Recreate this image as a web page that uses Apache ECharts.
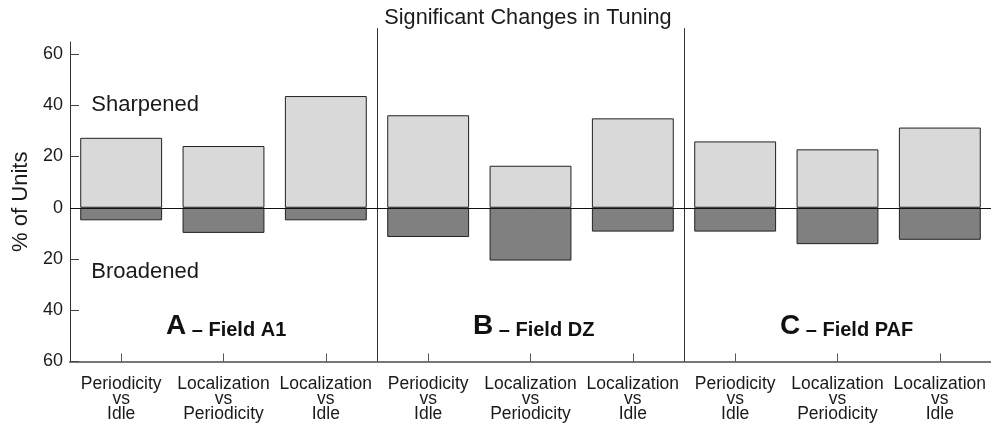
<!DOCTYPE html>
<html>
<head>
<meta charset="utf-8">
<script src="https://cdn.jsdelivr.net/npm/echarts@6/dist/echarts.min.js"></script>
<style>
  html, body { margin: 0; padding: 0; background: #fff; }
  #chart { width: 991px; height: 423px; }
</style>
</head>
<body>
<div id="chart"></div>
<script>
// Comparison pairs along the x axis, three per recording field
const categories = [
  'Periodicity\nvs\nIdle', 'Localization\nvs\nPeriodicity', 'Localization\nvs\nIdle',
  'Periodicity\nvs\nIdle', 'Localization\nvs\nPeriodicity', 'Localization\nvs\nIdle',
  'Periodicity\nvs\nIdle', 'Localization\nvs\nPeriodicity', 'Localization\nvs\nIdle'
];
// % of units whose tuning sharpened (drawn upward)
const sharpened = [27.3, 24.1, 43.6, 36.1, 16.4, 34.9, 25.9, 22.8, 31.3];
// % of units whose tuning broadened (drawn downward)
const broadened = [4.9, 9.8, 4.9, 11.4, 20.6, 9.3, 9.3, 14.2, 12.5];
// y tick values; labels show magnitudes only
const yTicks = [-60, -40, -20, 0, 20, 40, 60];
// recording fields, one per group of three bars
const fieldLetters = ['A', 'B', 'C'];
const fieldNames = ['Field A1', 'Field DZ', 'Field PAF'];
const fieldCenters = [1, 4, 7];
// category index where each new field group begins
const groupStarts = [3, 6];

const FONT = '"Liberation Sans", Arial, Helvetica, sans-serif';
const chart = echarts.init(document.getElementById('chart'), null, { renderer: 'canvas' });

chart.setOption({
  animation: false,
  backgroundColor: '#ffffff',
  textStyle: { fontFamily: FONT },
  grid: { left: 70, right: -1.5, top: 42, bottom: 58.7, containLabel: false },
  graphic: [{
    type: 'text',
    x: 528, y: 18,
    style: {
      text: 'Significant Changes in Tuning',
      font: '21.7px ' + FONT,
      fill: '#1a1a1a',
      textAlign: 'center',
      textVerticalAlign: 'middle'
    }
  }],
  xAxis: {
    type: 'category',
    data: categories,
    boundaryGap: true,
    axisLine: { show: true, onZero: false, lineStyle: { color: '#777', width: 2 } },
    axisTick: { show: true, alignWithLabel: true, inside: true, length: 8, lineStyle: { color: '#555', width: 1 } },
    axisLabel: {
      interval: 0, fontSize: 17.5, lineHeight: 15, color: '#1a1a1a', margin: 15, fontFamily: FONT
    },
    splitLine: { show: false }
  },
  yAxis: {
    type: 'value',
    min: -60,
    max: 64.7,
    name: '% of Units',
    nameLocation: 'middle',
    nameRotate: 90,
    nameGap: 37,
    nameTextStyle: { fontSize: 22, color: '#1a1a1a', fontFamily: FONT },
    axisLine: { show: true, lineStyle: { color: '#333', width: 1 } },
    axisTick: { show: true, inside: true, length: 9, customValues: yTicks, lineStyle: { color: '#444' } },
    axisLabel: {
      customValues: yTicks,
      formatter: function (v) { return String(Math.abs(v)); },
      fontSize: 18, color: '#1a1a1a', margin: 7, fontFamily: FONT
    },
    splitLine: { show: false }
  },
  series: [
    {
      name: 'Sharpened',
      type: 'bar',
      stack: 'units',
      barCategoryGap: '20%',
      data: sharpened,
      itemStyle: { color: '#d9d9d9', borderColor: '#222', borderWidth: 1 },
      markLine: {
        silent: true,
        symbol: 'none',
        label: { show: false },
        lineStyle: { color: '#111', width: 1, type: 'solid' },
        data: [{ yAxis: 0 }]
      }
    },
    {
      name: 'Broadened',
      type: 'bar',
      stack: 'units',
      data: broadened.map(function (v) { return -v; }),
      itemStyle: { color: '#808080', borderColor: '#222', borderWidth: 1 }
    },
    {
      // vertical dividers between the three field groups, reaching up under the title
      type: 'custom',
      silent: true,
      clip: false,
      data: groupStarts,
      renderItem: function (params, api) {
        const idx = api.value(0);
        const xa = api.coord([idx - 1, 0])[0];
        const xb = api.coord([idx, 0])[0];
        const x = Math.round((xa + xb) / 2) + 0.5;
        const yTop = api.coord([idx, 70.1])[1];
        const yBot = api.coord([idx, -60])[1];
        return {
          type: 'line',
          shape: { x1: x, y1: yTop, x2: x, y2: yBot },
          style: { stroke: '#333', lineWidth: 1 }
        };
      },
      encode: { x: 0, y: 0 }
    },
    {
      // side captions for the upward / downward halves
      type: 'scatter',
      symbolSize: 0,
      silent: true,
      itemStyle: { opacity: 1 },
      data: [
        { value: [0, 40], name: 'Sharpened' },
        { value: [0, -25], name: 'Broadened' }
      ],
      label: {
        show: true,
        position: 'inside',
        align: 'left',
        verticalAlign: 'middle',
        offset: [-29.8, 0],
        formatter: function (p) { return p.name; },
        fontSize: 22, color: '#1a1a1a', fontFamily: FONT
      }
    },
    {
      // field captions under each group of bars
      type: 'scatter',
      symbolSize: 0,
      silent: true,
      itemStyle: { opacity: 1 },
      data: fieldCenters.map(function (c, i) {
        return { value: [c, -46.4], name: fieldLetters[i] + '|' + fieldNames[i] };
      }),
      label: {
        show: true,
        position: 'inside',
        align: 'left',
        verticalAlign: 'middle',
        offset: [-57.5, 0],
        formatter: function (p) {
          const parts = p.name.split('|');
          return '{a|' + parts[0] + '}{b| \u2013 ' + parts[1] + '}';
        },
        rich: {
          a: { fontSize: 28, fontWeight: 'bold', color: '#111', verticalAlign: 'bottom', fontFamily: FONT },
          b: { fontSize: 20, fontWeight: 'bold', color: '#111', verticalAlign: 'bottom', fontFamily: FONT }
        }
      }
    }
  ]
});
</script>
</body>
</html>
